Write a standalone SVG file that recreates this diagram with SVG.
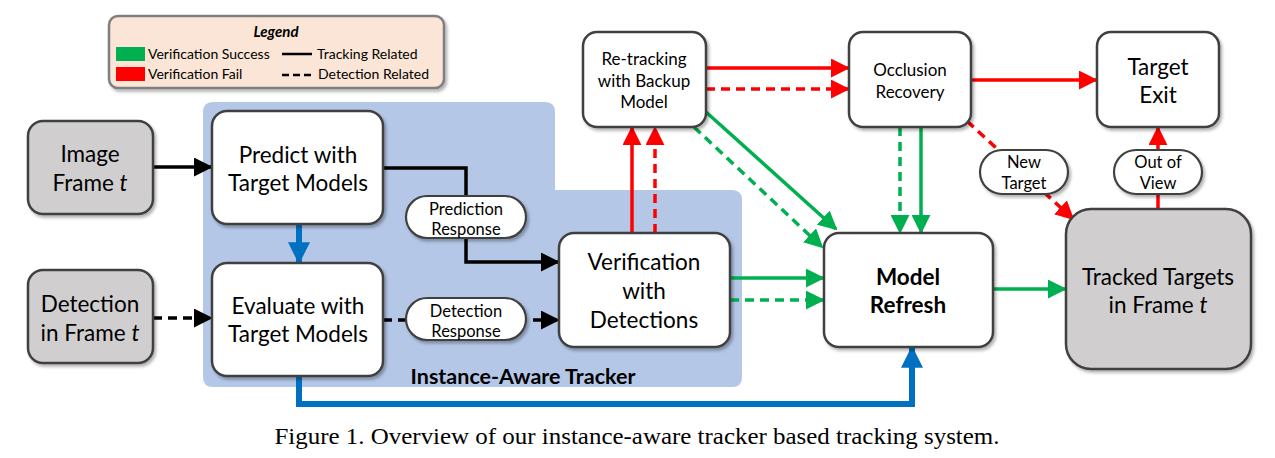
<svg xmlns="http://www.w3.org/2000/svg" width="1275" height="458" viewBox="0 0 1275 458">
<style>
text{font-family:Lato,"Open Sans","Liberation Sans",sans-serif;fill:#000;text-anchor:middle}
.box{fill:#fff;stroke:#404040;stroke-width:2.5}
.gray{fill:#D0CECE;stroke:#404040;stroke-width:2.5}
.pill{fill:#fff;stroke:#404040;stroke-width:2.2}
.t21{font-size:22.5px}
.t16{font-size:17px}
.t15{font-size:16.5px}
.ln{fill:none;stroke-width:3.5}
.k{stroke:#000}
.r{stroke:#FF0000}
.g{stroke:#00B050}
.b{stroke:#0070C0;stroke-width:6}
.d{stroke-dasharray:9 6}
.lg{font-size:14px;text-anchor:start}
</style>
<defs>
<filter id="sh" x="-10%" y="-10%" width="130%" height="130%">
<feDropShadow dx="2" dy="2.5" stdDeviation="1.8" flood-color="#000" flood-opacity="0.3"/>
</filter>
<marker id="ak" viewBox="0 0 10 10" refX="9" refY="5" markerWidth="19" markerHeight="19" markerUnits="userSpaceOnUse" orient="auto"><path d="M0,0 L10,5 L0,10 z" fill="#000"/></marker>
<marker id="ar" viewBox="0 0 10 10" refX="9" refY="5" markerWidth="19" markerHeight="19" markerUnits="userSpaceOnUse" orient="auto"><path d="M0,0 L10,5 L0,10 z" fill="#FF0000"/></marker>
<marker id="ag" viewBox="0 0 10 10" refX="9" refY="5" markerWidth="19" markerHeight="19" markerUnits="userSpaceOnUse" orient="auto"><path d="M0,0 L10,5 L0,10 z" fill="#00B050"/></marker>
<marker id="ab" viewBox="0 0 10 10" refX="9" refY="5" markerWidth="22" markerHeight="22" markerUnits="userSpaceOnUse" orient="auto"><path d="M0,0 L10,5 L0,10 z" fill="#0070C0"/></marker>
</defs>

<rect width="1275" height="458" fill="#fff"/>

<!-- Instance-aware tracker region -->
<g id="tracker-region">
<path d="M213,102 H545 Q555,102 555,112 V190 H732 Q742,190 742,200 V377 Q742,387 732,387 H213 Q203,387 203,377 V112 Q203,102 213,102 Z" fill="#B4C7E7"/>
<text x="523" y="384" style="font-size:21.5px;font-weight:bold">Instance-Aware Tracker</text>
</g>

<!-- Legend -->
<g id="legend">
<rect x="109" y="16" width="335" height="72" rx="9" fill="#FBE5D6" stroke="#7F7F7F" stroke-width="2.5" filter="url(#sh)"/>
<text x="276" y="37" style="font-size:15px;font-weight:bold;font-style:italic">Legend</text>
<rect x="116" y="47" width="29" height="14" fill="#00B050"/>
<rect x="116" y="67" width="29" height="14" fill="#FF0000"/>
<text class="lg" x="148" y="59">Verification Success</text>
<text class="lg" x="148" y="79">Verification Fail</text>
<line x1="282" y1="54" x2="312" y2="54" stroke="#000" stroke-width="2.5"/>
<line x1="282" y1="75" x2="312" y2="75" stroke="#000" stroke-width="2.5" stroke-dasharray="7 4"/>
<text class="lg" x="317" y="59">Tracking Related</text>
<text class="lg" x="318" y="79">Detection Related</text>
</g>

<!-- Connectors -->
<g id="connectors">
<line class="ln k" x1="153" y1="167" x2="211" y2="167" marker-end="url(#ak)"/>
<line class="ln k d" x1="153" y1="318" x2="211" y2="318" marker-end="url(#ak)"/>
<polyline class="ln k" points="383,168 466,168 466,262 558,262" marker-end="url(#ak)"/>
<line class="ln k d" x1="383" y1="320" x2="558" y2="320" marker-end="url(#ak)"/>
<line class="ln b" x1="299" y1="224" x2="299" y2="262" marker-end="url(#ab)"/>
<polyline class="ln b" points="299,376 299,404 912,404 912,348" marker-end="url(#ab)"/>
<line class="ln r" x1="632" y1="233" x2="632" y2="128" marker-end="url(#ar)"/>
<line class="ln r d" x1="655" y1="233" x2="655" y2="128" marker-end="url(#ar)"/>
<line class="ln r" x1="706" y1="68" x2="848" y2="68" marker-end="url(#ar)"/>
<line class="ln r d" x1="706" y1="89" x2="848" y2="89" marker-end="url(#ar)"/>
<line class="ln g" x1="706" y1="112" x2="836" y2="229" marker-end="url(#ag)"/>
<line class="ln g d" x1="694" y1="127" x2="822" y2="247" marker-end="url(#ag)"/>
<line class="ln g d" x1="900" y1="127" x2="900" y2="232" marker-end="url(#ag)"/>
<line class="ln g" x1="921" y1="127" x2="921" y2="232" marker-end="url(#ag)"/>
<line class="ln r" x1="971" y1="80" x2="1096" y2="80" marker-end="url(#ar)"/>
<line class="ln r d" x1="967" y1="121" x2="1073" y2="219" marker-end="url(#ar)"/>
<line class="ln r" x1="1158" y1="209" x2="1158" y2="128" marker-end="url(#ar)"/>
<line class="ln g" x1="730" y1="278" x2="823" y2="278" marker-end="url(#ag)"/>
<line class="ln g d" x1="730" y1="300" x2="823" y2="300" marker-end="url(#ag)"/>
<line class="ln g" x1="993" y1="289" x2="1065" y2="289" marker-end="url(#ag)"/>
</g>

<g id="image-frame">
<rect class="gray" x="28" y="121" width="125" height="93" rx="15" filter="url(#sh)"/>
<text class="t21" x="90" y="162">Image</text>
<text class="t21" x="90" y="191">Frame <tspan font-style="italic">t</tspan></text>
</g>
<g id="detection-frame">
<rect class="gray" x="28" y="270" width="125" height="93" rx="15" filter="url(#sh)"/>
<text class="t21" x="90" y="312">Detection</text>
<text class="t21" x="90" y="341">in Frame <tspan font-style="italic">t</tspan></text>
</g>
<g id="predict">
<rect class="box" x="212" y="111" width="171" height="113" rx="15" filter="url(#sh)"/>
<text class="t21" x="298" y="163">Predict with</text>
<text class="t21" x="298" y="191">Target Models</text>
</g>
<g id="evaluate">
<rect class="box" x="212" y="263" width="171" height="113" rx="15" filter="url(#sh)"/>
<text class="t21" x="298" y="314">Evaluate with</text>
<text class="t21" x="298" y="342">Target Models</text>
</g>
<g id="prediction-response">
<rect class="pill" x="406" y="196" width="120" height="42" rx="21" filter="url(#sh)"/>
<text class="t15" x="466" y="215">Prediction</text>
<text class="t15" x="466" y="235">Response</text>
</g>
<g id="detection-response">
<rect class="pill" x="406" y="298" width="120" height="42" rx="21" filter="url(#sh)"/>
<text class="t15" x="466" y="317">Detection</text>
<text class="t15" x="466" y="337">Response</text>
</g>
<g id="verification">
<rect class="box" x="559" y="233" width="171" height="114" rx="15" filter="url(#sh)"/>
<text class="t21" x="644" y="270">Verification</text>
<text class="t21" x="644" y="299">with</text>
<text class="t21" x="644" y="328">Detections</text>
</g>
<g id="retracking">
<rect class="box" x="583" y="32" width="123" height="95" rx="14" filter="url(#sh)"/>
<text class="t16" x="644" y="65">Re-tracking</text>
<text class="t16" x="644" y="87">with Backup</text>
<text class="t16" x="644" y="108">Model</text>
</g>
<g id="occlusion">
<rect class="box" x="849" y="32" width="122" height="95" rx="14" filter="url(#sh)"/>
<text class="t16" x="910" y="76">Occlusion</text>
<text class="t16" x="910" y="98">Recovery</text>
</g>
<g id="target-exit">
<rect class="box" x="1097" y="32" width="122" height="95" rx="14" filter="url(#sh)"/>
<text class="t21" x="1158" y="75">Target</text>
<text class="t21" x="1158" y="103">Exit</text>
</g>
<g id="model-refresh">
<rect class="box" x="824" y="233" width="169" height="114" rx="15" filter="url(#sh)"/>
<text class="t21" x="908" y="285" font-weight="bold">Model</text>
<text class="t21" x="908" y="313" font-weight="bold">Refresh</text>
</g>
<g id="tracked-targets">
<rect class="gray" x="1066" y="209" width="185" height="160" rx="25" filter="url(#sh)"/>
<text class="t21" x="1158" y="285">Tracked Targets</text>
<text class="t21" x="1158" y="313">in Frame <tspan font-style="italic">t</tspan></text>
</g>
<g id="new-target">
<rect class="pill" x="980" y="150" width="88" height="44" rx="22" filter="url(#sh)"/>
<text class="t15" x="1024" y="168">New</text>
<text class="t15" x="1024" y="189">Target</text>
</g>
<g id="out-of-view">
<rect class="pill" x="1114" y="150" width="88" height="44" rx="22" filter="url(#sh)"/>
<text class="t15" x="1158" y="168">Out of</text>
<text class="t15" x="1158" y="189">View</text>
</g>

<text x="637" y="444" textLength="725" lengthAdjust="spacingAndGlyphs" style="font-family:'Liberation Serif','Times New Roman',serif;font-size:24px">Figure 1. Overview of our instance-aware tracker based tracking system.</text>
</svg>
